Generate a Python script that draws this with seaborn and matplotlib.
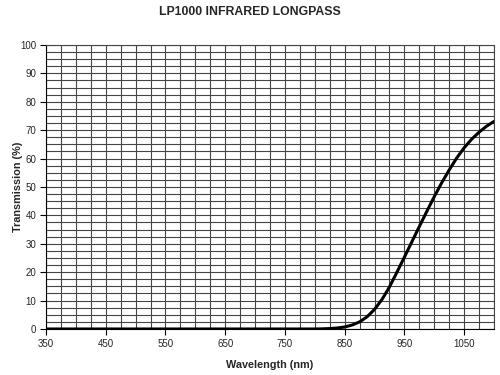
import numpy as np
import pandas as pd
import matplotlib
matplotlib.use("Agg")
import matplotlib.pyplot as plt
from matplotlib.ticker import MultipleLocator
import seaborn as sns

wavelength = [350, 400, 450, 500, 550, 600, 650, 700, 750, 800,
              812.5, 825, 837.5, 850, 862.5, 875, 887.5, 900, 912.5, 925,
              937.5, 950, 962.5, 975, 987.5, 1000, 1012.5, 1025, 1037.5,
              1050, 1062.5, 1075, 1087.5, 1100]
transmission = [0, 0, 0, 0, 0, 0, 0, 0, 0, 0,
                0.05, 0.15, 0.35, 0.7, 1.4, 2.5, 4.3, 6.9, 10.4, 14.8,
                20.0, 25.3, 30.7, 36.1, 41.4, 46.6, 51.5, 56.0, 60.2,
                63.8, 66.8, 69.3, 71.4, 73.1]
x_ticks = [350, 450, 550, 650, 750, 850, 950, 1050]
y_ticks = [0, 10, 20, 30, 40, 50, 60, 70, 80, 90, 100]

df = pd.DataFrame({"Wavelength (nm)": wavelength, "Transmission (%)": transmission})

sns.set_style("white")
plt.rcParams["font.family"] = ["Liberation Sans", "DejaVu Sans"]

fig = plt.figure(figsize=(5, 3.75), dpi=100)
ax = fig.add_axes([0.092, 0.1227, 0.896, 0.7573])

sns.lineplot(data=df, x="Wavelength (nm)", y="Transmission (%)", ax=ax,
             color="black", linewidth=2.2, zorder=5)

ax.set_xlim(350, 1100)
ax.set_ylim(0, 100)
ax.set_xticks(x_ticks)
ax.set_yticks(y_ticks)
ax.xaxis.set_minor_locator(MultipleLocator(25))
ax.yaxis.set_minor_locator(MultipleLocator(2.5))
ax.grid(which="both", color="#454545", linewidth=0.8)
ax.set_axisbelow(True)
ax.tick_params(which="major", direction="out", length=4.5, width=0.8,
               color="black", labelsize=7, pad=2.5,
               bottom=True, left=True)
ax.tick_params(which="minor", length=0)
for s in ax.spines.values():
    s.set_color("#454545")
    s.set_linewidth(0.8)
ax.spines["left"].set_color("black")
ax.spines["bottom"].set_color("black")

ax.set_xlabel("Wavelength (nm)", fontsize=7.8, fontweight="bold")
ax.set_ylabel("Transmission (%)", fontsize=7.8, fontweight="bold")
ax.xaxis.set_label_coords(0.5, -0.108)
ax.yaxis.set_label_coords(-0.052, 0.5)
fig.suptitle("LP1000 INFRARED LONGPASS", fontsize=8.8, fontweight="bold", y=0.985)

fig.savefig("out.png", dpi=100)
